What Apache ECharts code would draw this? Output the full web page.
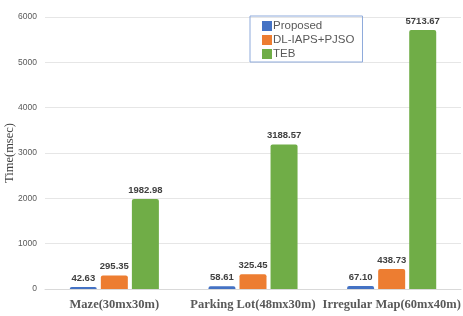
<!DOCTYPE html>
<html><head><meta charset="utf-8">
<script src="https://cdn.jsdelivr.net/npm/echarts@6/dist/echarts.min.js"></script>
<style>html,body{margin:0;padding:0;background:#fff}#c{width:463px;height:316px}</style>
</head><body><div id="c"></div>
<script>
const categories = ['Maze(30mx30m)', 'Parking Lot(48mx30m)', 'Irregular Map(60mx40m)'];
const seriesNames = ['Proposed', 'DL-IAPS+PJSO', 'TEB'];
const proposed = [42.63, 58.61, 67.10];
const dlIaps = [295.35, 325.45, 438.73];
const teb = [1982.98, 3188.57, 5713.67];
const colors = ['#4472C4', '#ED7D31', '#70AD47'];
const values = [proposed, dlIaps, teb];

const chart = echarts.init(document.getElementById('c'), null, {renderer: 'canvas'});
chart.setOption({
  animation: false,
  grid: {left: 45, right: 2, top: 17, bottom: 27, containLabel: false, outerBoundsMode: 'none'},
  legend: {
    orient: 'vertical', left: 250, top: 16,
    itemWidth: 10, itemHeight: 10, itemGap: 2,
    padding: [4, 8, 2, 12],
    borderColor: '#8EAADB', borderWidth: 1,
    icon: 'rect',
    textStyle: {fontFamily: 'Liberation Sans, Arial', fontSize: 11.5, color: '#595959', padding: [0,0,0,-4]},
    data: seriesNames
  },
  xAxis: {
    type: 'category', data: categories,
    axisLine: {lineStyle: {color: '#D9D9D9'}},
    axisTick: {show: false},
    axisLabel: {fontFamily: 'Liberation Serif, Times New Roman', fontWeight: 'bold', fontSize: 12.5, color: '#595959', margin: 9, interval: 0}
  },
  yAxis: {
    type: 'value', min: 0, max: 6000, interval: 1000,
    name: 'Time(msec)', nameLocation: 'middle', nameGap: 29, nameRotate: 90, nameMoveOverlap: false,
    nameTextStyle: {fontFamily: 'Liberation Serif, Times New Roman', fontSize: 12.5, color: '#404040'},
    axisLine: {show: false}, axisTick: {show: false},
    axisLabel: {fontFamily: 'Liberation Sans, Arial', fontSize: 8.5, color: '#595959', margin: 8, formatter: v => String(v)},
    splitLine: {lineStyle: {color: '#E6E6E6'}}
  },
  series: seriesNames.map((n, i) => ({
    name: n, type: 'bar', data: values[i],
    barWidth: 27, barGap: '15%', barCategoryGap: '36%',
    itemStyle: {color: colors[i], borderRadius: [2, 2, 0, 0]},
    label: {
      show: true, position: 'top', distance: 4,
      formatter: p => p.value.toFixed(2),
      fontFamily: 'Liberation Sans, Arial', fontWeight: 'bold', fontSize: 9.5, color: '#404040'
    }
  }))
});
</script></body></html>
